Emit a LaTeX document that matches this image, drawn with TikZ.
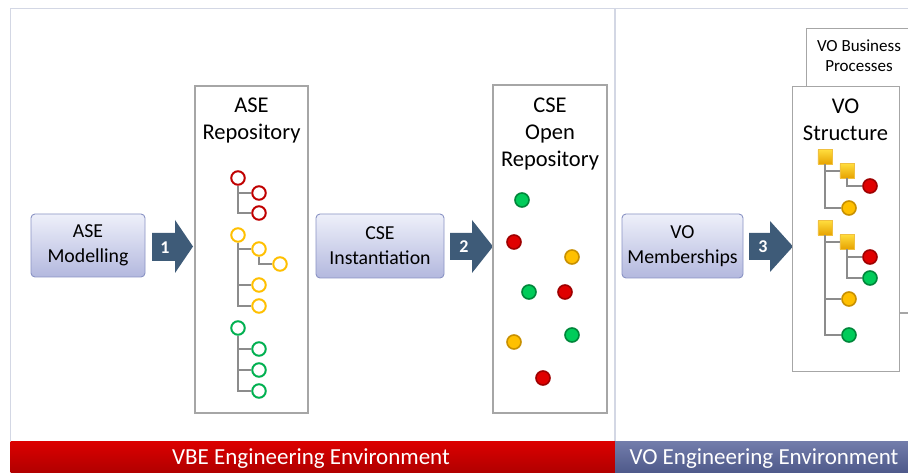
\documentclass[tikz,border=0pt]{standalone}
\usepackage{fontspec}
\setmainfont{Carlito}
\usetikzlibrary{shapes.misc}
\definecolor{frameline}{HTML}{D3D7E4}
\definecolor{boxline}{HTML}{A6A6A6}
\definecolor{procTop}{HTML}{EEF0FA}
\definecolor{procBot}{HTML}{B3B8DE}
\definecolor{procLine}{HTML}{8A93C4}
\definecolor{arrowcol}{HTML}{3E5B78}
\definecolor{ringRed}{HTML}{C00000}
\definecolor{ringYel}{HTML}{FFC000}
\definecolor{ringGrn}{HTML}{00B050}
\definecolor{dotRed}{HTML}{E00000}
\definecolor{dotRedB}{HTML}{9E0000}
\definecolor{dotYel}{HTML}{FFC000}
\definecolor{dotYelB}{HTML}{C89000}
\definecolor{dotGrn}{HTML}{00CC5A}
\definecolor{dotGrnB}{HTML}{00863A}
\definecolor{treeline}{HTML}{8C8C8C}
\definecolor{sqTop}{HTML}{FFDC3C}
\definecolor{sqBot}{HTML}{E6A200}
\definecolor{sqLine}{HTML}{F0C040}
\definecolor{barRedTop}{HTML}{DC0000}
\definecolor{barRedBot}{HTML}{B00000}
\definecolor{barBlueTop}{HTML}{737DAB}
\definecolor{barBlueBot}{HTML}{4E598A}
\tikzset{
  repo/.style={draw=boxline, line width=1.1pt, fill=white, inner sep=0pt},
  repotitle/.style={align=center, font=\fontsize{22.5}{27}\selectfont, inner sep=0pt},
  proc/.style={draw=procLine, line width=0.9pt, rounded corners=4pt, top color=procTop, bottom color=procBot, inner sep=0pt, align=center, font=\fontsize{19.8}{25}\selectfont},
  arrowbody/.style={fill=arrowcol},
  arrownum/.style={text=white, font=\fontsize{18}{20}\selectfont\bfseries, inner sep=0pt},
  ring/.style={circle, draw=#1, line width=2pt, minimum size=13.5pt, inner sep=0pt, fill=white},
  dot/.style args={#1/#2}{circle, draw=#2, fill=#1, line width=1.6pt, minimum size=14pt, inner sep=0pt},
  folder/.style={chamfered rectangle, chamfered rectangle corners=north east, chamfered rectangle xsep=2.5pt, chamfered rectangle ysep=2.5pt, minimum width=14.5pt, minimum height=14.5pt, inner sep=0pt, top color=sqTop, bottom color=sqBot, draw=sqLine, line width=0.5pt},
  tree/.style={draw=treeline, line width=1.3pt},
  bar/.style={inner sep=0pt, text=white, font=\fontsize{23}{25}\selectfont},
}
\begin{document}
\begin{tikzpicture}[x=1pt,y=-1pt]
\useasboundingbox (0,0) rectangle (908,473);
\fill[white] (0,0) rectangle (908,473);
% frames
\draw[frameline, line width=1.5pt] (10.5,441) -- (10.5,8.5) -- (908,8.5);
\draw[frameline, line width=1.5pt] (615,8.5) -- (615,441);
% bottom bars
\node[inner sep=0pt, minimum width=604.5pt, minimum height=32pt, top color=barRedTop, bottom color=barRedBot] (vbe) at (312.75,457) {};
\node[bar] (vbetxt) at (311,459) {VBE Engineering Environment};
\node[inner sep=0pt, minimum width=293pt, minimum height=32pt, top color=barBlueTop, bottom color=barBlueBot] (voenv) at (761.5,457) {};
\node[bar] (voenvtxt) at (764,459) {VO Engineering Environment};
% process boxes
\node[proc, minimum width=114pt, minimum height=63pt] (asemod) at (88,245.5) {ASE\\Modelling};
\node[proc, minimum width=128pt, minimum height=64pt] (cseinst) at (380,246) {CSE\\Instantiation};
\node[proc, minimum width=121pt, minimum height=64pt] (vomem) at (682.5,246) {VO\\Memberships};
% arrows
\fill[arrowbody] (152,233) -- (175,233) -- (175,220) -- (193,246.5) -- (175,273) -- (175,261) -- (152,261) -- cycle;
\node[arrownum] (n1) at (165,248) {1};
\fill[arrowbody] (450,233) -- (472,233) -- (472,220) -- (493,246.5) -- (472,273) -- (472,260) -- (450,260) -- cycle;
\node[arrownum] (n2) at (464,247) {2};
\fill[arrowbody] (749,233) -- (770,233) -- (770,221) -- (793,246.5) -- (770,272) -- (770,260) -- (749,260) -- cycle;
\node[arrownum] (n3) at (763,247) {3};
% ASE repository
\node[repo, minimum width=113pt, minimum height=327pt] (aserepo) at (251.5,249.5) {};
\node[repotitle] (aset) at (251.5,121) {ASE\\Repository};
% red group
\node[ring=ringRed] (r0) at (238,178) {};
\node[ring=ringRed] (r1) at (259,193) {};
\node[ring=ringRed] (r2) at (259,213) {};
% yellow group
\node[ring=ringYel] (y0) at (238,235) {};
\node[ring=ringYel] (y1) at (259,249) {};
\node[ring=ringYel] (y11) at (280,264) {};
\node[ring=ringYel] (y2) at (259,285) {};
\node[ring=ringYel] (y3) at (259,306) {};
% green group
\node[ring=ringGrn] (g0) at (238,328) {};
\node[ring=ringGrn] (g1) at (259,349) {};
\node[ring=ringGrn] (g2) at (259,370) {};
\node[ring=ringGrn] (g3) at (259,391) {};
\draw[tree] (r0.south) |- (r1.west);
\draw[tree] (r0.south) |- (r2.west);
\draw[tree] (y0.south) |- (y1.west);
\draw[tree] (y1.south) |- (y11.west);
\draw[tree] (y0.south) |- (y2.west);
\draw[tree] (y0.south) |- (y3.west);
\draw[tree] (g0.south) |- (g1.west);
\draw[tree] (g0.south) |- (g2.west);
\draw[tree] (g0.south) |- (g3.west);
% CSE open repository
\node[repo, minimum width=114pt, minimum height=328pt] (cserepo) at (550,249) {};
\node[repotitle] (cset) at (550,134) {CSE\\Open\\Repository};
\node[dot=dotGrn/dotGrnB] (c1) at (522,200) {};
\node[dot=dotRed/dotRedB] (c2) at (514,242) {};
\node[dot=dotYel/dotYelB] (c3) at (572,257) {};
\node[dot=dotGrn/dotGrnB] (c4) at (529,292) {};
\node[dot=dotRed/dotRedB] (c5) at (565,292) {};
\node[dot=dotYel/dotYelB] (c6) at (514,342) {};
\node[dot=dotGrn/dotGrnB] (c7) at (572,335) {};
\node[dot=dotRed/dotRedB] (c8) at (543,378) {};
% VO business processes (behind)
\draw[boxline, line width=1.1pt] (806.5,88) -- (806.5,28.5) -- (908,28.5);
\node[align=center, inner sep=0pt, font=\fontsize{17}{20}\selectfont] (vobpt) at (859,56) {VO Business\\Processes};
% VO structure
\node[repo, minimum width=107pt, minimum height=285pt, anchor=north west] (vostr) at (792,86) {};
\node[repotitle] (vostrt) at (845.5,120) {VO\\Structure};
\coordinate (edge) at (908,313);
\coordinate (edgestart) at (899.5,313);
\draw[boxline, line width=1.1pt] (edgestart) -- (edge);
% VO tree
\node[folder] (s1) at (825,157) {};
\node[folder] (s2) at (847,171) {};
\node[dot=dotRed/dotRedB] (v1) at (870,186) {};
\node[dot=dotYel/dotYelB] (v2) at (849,208) {};
\node[folder] (s3) at (825,228) {};
\node[folder] (s4) at (847,242) {};
\node[dot=dotRed/dotRedB] (v3) at (870,257) {};
\node[dot=dotGrn/dotGrnB] (v4) at (870,278) {};
\node[dot=dotYel/dotYelB] (v5) at (849,299) {};
\node[dot=dotGrn/dotGrnB] (v6) at (849,335) {};
\draw[tree] (s1.south) |- (s2.west);
\draw[tree] (s1.south) |- (v2.west);
\draw[tree] (s2.south) |- (v1.west);
\draw[tree] (s3.south) |- (s4.west);
\draw[tree] (s3.south) |- (v5.west);
\draw[tree] (s3.south) |- (v6.west);
\draw[tree] (s4.south) |- (v3.west);
\draw[tree] (s4.south) |- (v4.west);
\end{tikzpicture}
\end{document}
